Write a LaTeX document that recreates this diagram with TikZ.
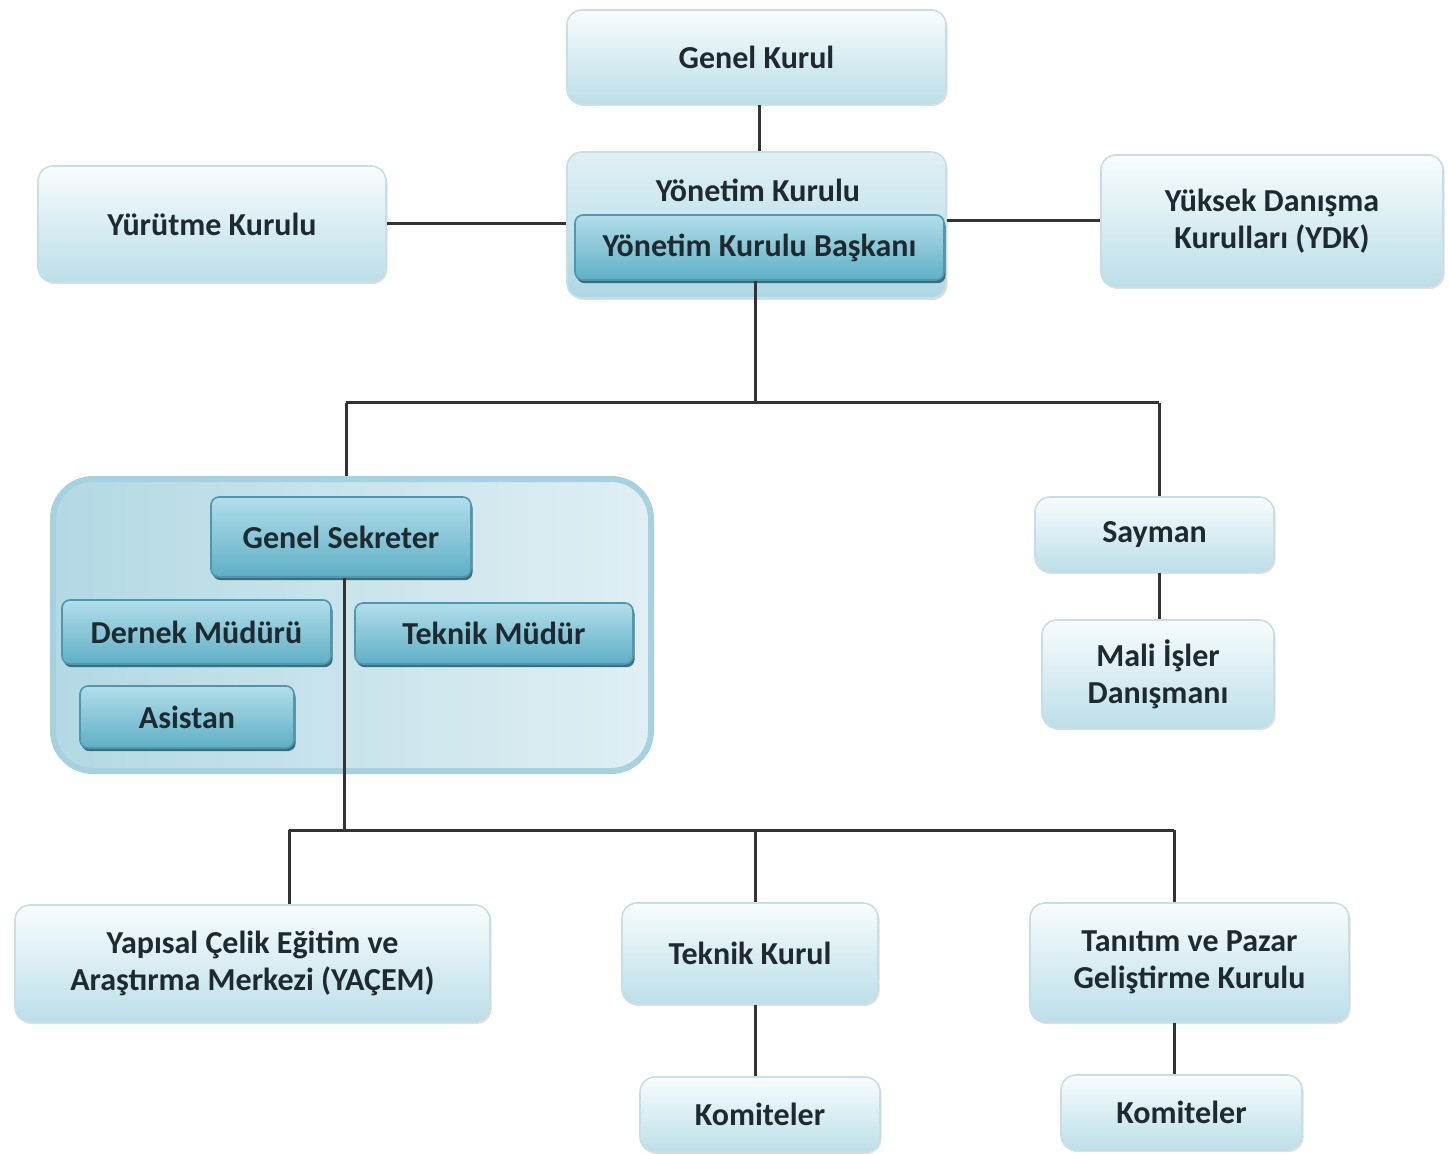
\documentclass[tikz,border=0pt]{standalone}
\usepackage{fontspec}
\setmainfont{Carlito}
\usetikzlibrary{shadows,calc}
\definecolor{txt}{HTML}{1E2A30}
\definecolor{lnk}{HTML}{333333}
\definecolor{ltop}{HTML}{F8FCFD}
\definecolor{lbot}{HTML}{BCDFE9}
\definecolor{lbrd}{HTML}{C9DEE4}
\definecolor{dtop}{HTML}{B2DEEA}
\definecolor{dbot}{HTML}{5FAFC6}
\definecolor{dbrd}{HTML}{4E97AC}
\definecolor{dsh}{HTML}{2C6272}
\definecolor{gleft}{HTML}{B3D9E4}
\definecolor{gright}{HTML}{E0EFF3}
\definecolor{gbrd}{HTML}{A6D2DF}
\tikzset{
  lightbox/.style={draw=lbrd, line width=0.8pt, rounded corners=7.5pt,
    top color=ltop, bottom color=lbot, text=txt, align=center,
    font=\bfseries\fontsize{16}{18.5}\selectfont, inner sep=0pt,
    drop shadow={shadow xshift=0.8pt, shadow yshift=-1pt, fill=black, opacity=0.12}},
  darkbox/.style={draw=dbrd, line width=0.8pt, rounded corners=4pt,
    top color=dtop, bottom color=dbot, text=txt, align=center,
    font=\bfseries\fontsize{16}{18.5}\selectfont, inner sep=0pt,
    drop shadow={shadow xshift=0.8pt, shadow yshift=-1.6pt, fill=dsh, opacity=0.9}},
  groupbox/.style={draw=gbrd, line width=3pt, rounded corners=20pt,
    left color=gleft, right color=gright, inner sep=0pt},
  link/.style={draw=lnk, line width=1.5pt},
  plain/.style={text=txt, font=\bfseries\fontsize{16}{18.5}\selectfont, inner sep=0pt}
}
\begin{document}
\begin{tikzpicture}[x=0.5pt, y=-0.5pt]
\useasboundingbox[fill=white] (0,0) rectangle (1449,1154);

% top
\node[lightbox, minimum width=189.5pt, minimum height=47pt] (gk) at (756.5,57) {Genel Kurul};
\node[lightbox, minimum width=189.5pt, minimum height=73pt, top color=ltop!60!lbot, bottom color=lbot!85!dbot] (yk) at (756.5,225) {};
\node[plain] (ykt) at (758,190) {Yönetim Kurulu};
\node[darkbox, minimum width=184.5pt, minimum height=32.5pt] (ykb) at (759.5,247.5) {Yönetim Kurulu Başkanı};
\node[lightbox, minimum width=174pt, minimum height=58pt] (yur) at (212,224) {Yürütme Kurulu};
\node[lightbox, minimum width=171pt, minimum height=66pt] (ydk) at (1272,221) {Yüksek Danışma\\Kurulları (YDK)};

% group
\node[groupbox, minimum width=299pt, minimum height=146pt] (grp) at (352,625) {};
\node[darkbox, minimum width=130pt, minimum height=40pt] (gs) at (341,537) {Genel Sekreter};
\node[darkbox, minimum width=134.5pt, minimum height=32pt] (dm) at (196.5,632) {Dernek Müdürü};
\node[darkbox, minimum width=139pt, minimum height=30.5pt] (tm) at (494,633.5) {Teknik Müdür};
\node[darkbox, minimum width=107pt, minimum height=31pt] (as) at (187,717) {Asistan};

% right
\node[lightbox, minimum width=119.5pt, minimum height=37.5pt] (say) at (1154.5,534.5) {Sayman};
\node[lightbox, minimum width=116pt, minimum height=54pt] (mali) at (1158,674) {Mali İşler\\Danışmanı};

% bottom
\node[lightbox, minimum width=237.5pt, minimum height=58.5pt] (yac) at (252.5,963.5) {Yapısal Çelik Eğitim ve\\Araştırma Merkezi (YAÇEM)};
\node[lightbox, minimum width=128pt, minimum height=50.5pt] (tk) at (750,953.5) {Teknik Kurul};
\node[lightbox, minimum width=120pt, minimum height=37.5pt] (kom1) at (760,1114.5) {Komiteler};
\node[lightbox, minimum width=159.5pt, minimum height=59.5pt] (tan) at (1189.5,962.5) {Tanıtım ve Pazar\\Geliştirme Kurulu};
\node[lightbox, minimum width=120.5pt, minimum height=37.5pt] (kom2) at (1181.5,1112.5) {Komiteler};

% connectors
\coordinate (hL) at (346,403);
\coordinate (hR) at (1159,403);
\coordinate (bL) at (289,830);
\coordinate (bR) at (1174,830);
\coordinate (yx) at (759,0);
\coordinate (kx) at (755,0);
\coordinate (gx) at (344,0);

\draw[link] (yx |- gk.south) -- (yx |- yk.north);
\draw[link] (yur.east) -- (yur.east -| yk.west);
\draw[link] (ydk.west) -- (ydk.west -| yk.east);
\draw[link] (kx |- ykb.south) -- (kx |- hL);
\draw[link] (hL) -- (hR);
\draw[link] (hL) -- (hL |- grp.north);
\draw[link] (hR) -- (hR |- say.north);
\draw[link] (hR |- say.south) -- (hR |- mali.north);
\draw[link] (gx |- gs.south) -- (gx |- bL);
\draw[link] (bL) -- (bR);
\draw[link] (bL) -- (bL |- yac.north);
\draw[link] (kx |- bL) -- (kx |- tk.north);
\draw[link] (bR) -- (bR |- tan.north);
\draw[link] (kx |- tk.south) -- (kx |- kom1.north);
\draw[link] (bR |- tan.south) -- (bR |- kom2.north);
\end{tikzpicture}
\end{document}
